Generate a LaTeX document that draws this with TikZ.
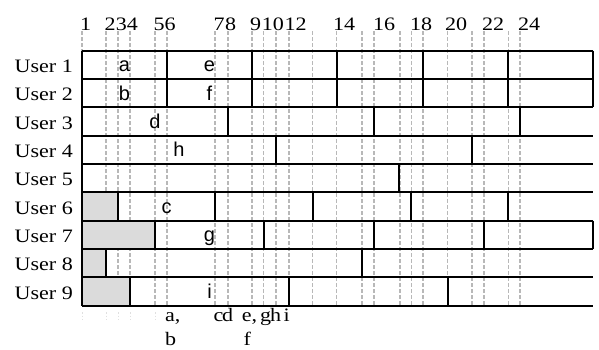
\documentclass[tikz,border=0pt]{standalone}
\usepackage{fontspec}
\usepackage{graphicx}
\setmainfont{Liberation Serif}
\newfontfamily\tasksans{Liberation Sans}
\newcommand{\wide}[1]{\scalebox{1.16}[1]{#1}}
\begin{document}
\begin{tikzpicture}[x=1pt,y=-1pt,
  gridline/.style={draw=black!28, line width=1.2pt, dash pattern=on 3.5pt off 2.5pt},
  faintline/.style={draw=black!12, line width=1pt, dash pattern=on 1.5pt off 2pt},
  bar/.style={draw=black, line width=2pt},
  idle/.style={fill=black!14},
  numlab/.style={anchor=base west, inner sep=0pt, font=\fontsize{19}{19}\selectfont},
  userlab/.style={anchor=base east, inner sep=0pt, font=\fontsize{19}{19}\selectfont},
  tasklab/.style={anchor=base, inner sep=0pt, font=\tasksans\fontsize{20}{20}\selectfont},
]
\useasboundingbox (0,0) rectangle (599,349);
\fill[white] (0,0) rectangle (599,349);
\def\rh{28.333}
\def\yo{50.7}
% dashed time lines
\foreach \x in {82,106,118,130,155,167,215,228,252,263.5,276,289,312.7,336.7,362,374,400,411.3,423,447.7,472,484,508.3,520}
  \draw[gridline] (\x,31) -- (\x,305.7);
\foreach \x in {82,106,118,130,155}
  \draw[faintline] (\x,312) -- (\x,320);
% idle (gray) parts
\foreach \r/\x in {6/118,7/155,8/106,9/130}{
  \pgfmathsetmacro\ya{\yo+(\r-1)*\rh}
  \pgfmathsetmacro\yb{\yo+\r*\rh}
  \fill[idle] (82,\ya) rectangle (\x,\yb);
}
% horizontal row lines
\foreach \k in {0,...,9}{
  \pgfmathsetmacro\yy{\yo+\k*\rh}
  \draw[bar] (82,\yy) -- (593,\yy);
}
% left edge and closed right edges
\draw[bar] (82,\yo) -- (82,305.7);
\draw[bar] (593,\yo) -- (593,107.37);
\draw[bar] (593,220.7) -- (593,249.03);
% job boundaries in each row
\foreach \r/\xs in {1/{167,252,336.7,423,508},2/{167,252,336.7,423,508},3/{228,374,520},4/{276,472},5/{398.5},6/{118,215,312.7,411.3,508.3},7/{155,264,374,483.5},8/{106,362},9/{130,289,447.7}}{
  \pgfmathsetmacro\ya{\yo+(\r-1)*\rh}
  \pgfmathsetmacro\yb{\yo+\r*\rh}
  \foreach \x in \xs
    \draw[bar] (\x,\ya) -- (\x,\yb);
}
% user labels
\foreach \r in {1,...,9}{
  \pgfmathsetmacro\yc{\yo+(\r-0.5)*\rh+7.6}
  \node[userlab] (user\r) at (73,\yc) {\wide{User \r}};
}
% time labels
\foreach \x/\t in {80/1,104.3/2,115.7/3,126.7/4,153.3/5,164.3/6,213.3/7,225/8,250/9,261.7/10,284.3/12,333/14,373/16,410/18,445/20,482/22,518/24}
  \node[numlab] (t\t) at (\x,30) {\wide{\t}};
% job labels
\pgfmathsetmacro\yA{\yo+0.5*\rh+6.8}
\pgfmathsetmacro\yB{\yo+1.5*\rh+6.8}
\pgfmathsetmacro\yD{\yo+2.5*\rh+6.8}
\pgfmathsetmacro\yH{\yo+3.5*\rh+6.8}
\pgfmathsetmacro\yC{\yo+5.5*\rh+6.8}
\pgfmathsetmacro\yG{\yo+6.5*\rh+6.8}
\pgfmathsetmacro\yI{\yo+8.5*\rh+6.8}
\node[tasklab] (ja) at (124.5,\yA) {a};
\node[tasklab] (je) at (209.5,\yA) {e};
\node[tasklab] (jb) at (124.5,\yB) {b};
\node[tasklab] (jf) at (209.5,\yB) {f};
\node[tasklab] (jd) at (155,\yD) {d};
\node[tasklab] (jh) at (179,\yH) {h};
\node[tasklab] (jc) at (166.5,\yC) {c};
\node[tasklab] (jg) at (209.5,\yG) {g};
\node[tasklab] (ji) at (209.5,\yI) {i};
% completion labels
\node[numlab] (ea) at (165,321.7) {\wide{a,}};
\node[numlab] (eb) at (165,345) {\wide{b}};
\node[numlab] (ec) at (213.3,321.7) {\wide{c}};
\node[numlab] (ed) at (222,321.7) {\wide{d}};
\node[numlab] (ee) at (241.7,321.7) {\wide{e,}};
\node[numlab] (ef) at (243.3,345) {\wide{f}};
\node[numlab] (eg) at (260,321.7) {\wide{g}};
\node[numlab] (eh) at (270,321.7) {\wide{h}};
\node[numlab] (ei) at (283.3,321.7) {\wide{i}};
\end{tikzpicture}
\end{document}
